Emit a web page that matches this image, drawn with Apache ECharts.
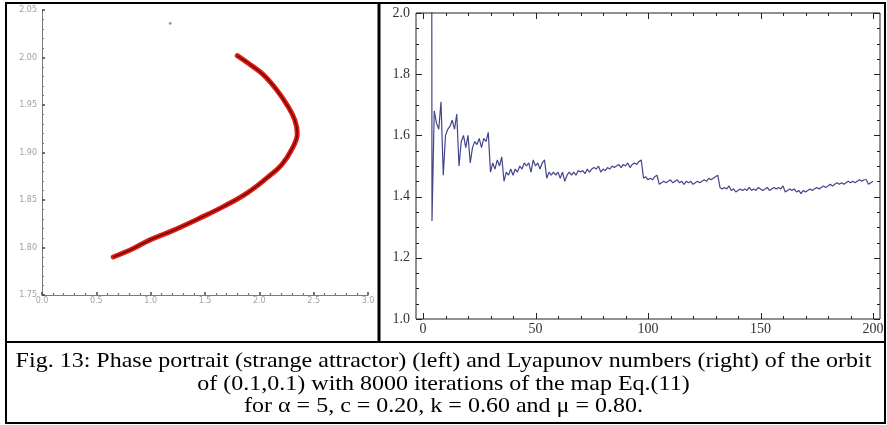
<!DOCTYPE html>
<html><head><meta charset="utf-8">
<script src="https://cdn.jsdelivr.net/npm/echarts@6/dist/echarts.min.js"></script>
<style>html,body{margin:0;padding:0;background:#fff}#c{width:887px;height:425px}</style>
</head><body><div id="c"></div>
<script>
// Left panel: phase portrait
const attractorX = [0.656, 0.84, 0.994, 1.208, 1.454, 1.668, 1.883, 2.067, 2.205, 2.297, 2.349, 2.327, 2.266, 2.159, 2.036, 1.898, 1.797];
const attractorY = [1.790, 1.799, 1.808, 1.818, 1.831, 1.843, 1.857, 1.873, 1.887, 1.903, 1.920, 1.934, 1.948, 1.966, 1.982, 1.994, 2.002];
const strayPoint = [1.18, 2.036];

// Right panel: Lyapunov numbers, iterations 1..200
const lyapunov = [
  4.0, 6.0, 9.0, 1.32, 1.68, 1.64, 1.62, 1.71, 1.47, 1.60,
  1.62, 1.63, 1.65, 1.62, 1.67, 1.50, 1.58, 1.60, 1.56, 1.60,
  1.51, 1.56, 1.58, 1.57, 1.59, 1.56, 1.59, 1.58, 1.61, 1.48,
  1.51, 1.49, 1.52, 1.50, 1.53, 1.45, 1.48, 1.47, 1.49, 1.47,
  1.49, 1.48, 1.50, 1.49, 1.51, 1.50, 1.51, 1.48, 1.52, 1.50,
  1.51, 1.49, 1.51, 1.52, 1.46, 1.48, 1.47, 1.48, 1.47, 1.48,
  1.46, 1.48, 1.45, 1.47, 1.48, 1.47, 1.48, 1.47, 1.485, 1.48,
  1.485, 1.475, 1.49, 1.48, 1.49, 1.495, 1.49, 1.50, 1.48, 1.49,
  1.485, 1.495, 1.49, 1.50, 1.495, 1.50, 1.505, 1.495, 1.505, 1.50,
  1.51, 1.495, 1.505, 1.51, 1.505, 1.515, 1.52, 1.46, 1.465, 1.455,
  1.46, 1.455, 1.465, 1.47, 1.44, 1.445, 1.45, 1.445, 1.45, 1.455,
  1.445, 1.45, 1.455, 1.445, 1.45, 1.44, 1.45, 1.445, 1.45, 1.44,
  1.445, 1.45, 1.445, 1.45, 1.455, 1.45, 1.46, 1.455, 1.46, 1.465,
  1.47, 1.43, 1.425, 1.43, 1.425, 1.435, 1.42, 1.425, 1.415, 1.42,
  1.425, 1.42, 1.425, 1.42, 1.43, 1.42, 1.425, 1.42, 1.43, 1.425,
  1.42, 1.425, 1.43, 1.42, 1.425, 1.43, 1.425, 1.43, 1.425, 1.435,
  1.415, 1.42, 1.425, 1.42, 1.425, 1.415, 1.42, 1.41, 1.42, 1.415,
  1.42, 1.425, 1.42, 1.425, 1.43, 1.425, 1.43, 1.435, 1.43, 1.435,
  1.44, 1.435, 1.44, 1.445, 1.44, 1.445, 1.44, 1.445, 1.45, 1.445,
  1.45, 1.445, 1.45, 1.455, 1.45, 1.455, 1.455, 1.44, 1.445, 1.45
];

// Frame tick values of the right panel
const xMajorTicks = [0, 50, 100, 150, 200];
const xMinorStep = 10;
const yMajorTicks = [1.0, 1.2, 1.4, 1.6, 1.8, 2.0];
const yMinorStep = 0.05;

const captionLines = [
  'Fig. 13: Phase portrait (strange attractor) (left) and Lyapunov numbers (right) of the orbit',
  'of (0.1,0.1) with 8000 iterations of the map Eq.(11)',
  'for \u03b1 = 5, c = 0.20, k = 0.60 and \u03bc = 0.80.'
];

const attractorData = attractorX.map((x, i) => [x, attractorY[i]]);
const lyapData = lyapunov.map((v, i) => [i + 1, v]);

const serif = 'Liberation Serif';
const chart = echarts.init(document.getElementById('c'));

const leftAxisCommon = () => ({
  axisLine: { show: true, onZero: false, lineStyle: { color: '#7a7a7a', width: 1 } },
  axisTick: { show: true, inside: true, length: 3, lineStyle: { color: '#444', width: 1.5 } },
  minorTick: { show: true, splitNumber: 5, length: 2, lineStyle: { color: '#777', width: 1.2 } },
  splitLine: { show: false }
});
const hiddenFrameAxis = () => ({
  axisLine: { show: false, onZero: false },
  axisTick: { show: false },
  minorTick: { show: false },
  splitLine: { show: false }
});

chart.setOption({
  animation: false,
  grid: [
    { left: 42, top: 10, width: 326, height: 285 },
    { left: 423, right: 14, top: 13, bottom: 106 }
  ],
  xAxis: [
    Object.assign(leftAxisCommon(), {
      gridIndex: 0, type: 'value', min: 0, max: 3, interval: 0.5,
      axisLabel: { color: '#a0a0a0', fontSize: 8, fontFamily: 'DejaVu Sans', margin: 2, formatter: v => v.toFixed(1) }
    }),
    Object.assign(hiddenFrameAxis(), {
      gridIndex: 1, type: 'value', min: 0, max: 200, interval: 50, position: 'bottom',
      axisLabel: { show: true, color: '#333', fontSize: 14, fontFamily: serif, margin: 3 }
    })
  ],
  yAxis: [
    Object.assign(leftAxisCommon(), {
      gridIndex: 0, type: 'value', min: 1.75, max: 2.05, interval: 0.05,
      axisLabel: { color: '#a0a0a0', fontSize: 8, fontFamily: 'DejaVu Sans', margin: 5, formatter: v => v.toFixed(2) }
    }),
    Object.assign(hiddenFrameAxis(), {
      gridIndex: 1, type: 'value', min: 1, max: 2, interval: 0.2, position: 'left', offset: 7,
      axisLabel: { show: true, color: '#333', fontSize: 14, fontFamily: serif, margin: 6, formatter: v => v.toFixed(1) }
    })
  ],
  series: [
    {
      type: 'line', xAxisIndex: 0, yAxisIndex: 0, data: attractorData, smooth: 0.4,
      symbol: 'none', lineStyle: { color: '#e41a12', width: 5, cap: 'round' }
    },
    {
      type: 'line', xAxisIndex: 0, yAxisIndex: 0, data: attractorData, smooth: 0.4,
      symbol: 'none', lineStyle: { color: '#6a0c08', width: 1.6 }
    },
    {
      type: 'scatter', xAxisIndex: 0, yAxisIndex: 0, data: [strayPoint],
      symbolSize: 3, itemStyle: { color: '#888' }
    },
    {
      type: 'line', xAxisIndex: 1, yAxisIndex: 1, data: lyapData, clip: true,
      symbol: 'none', lineStyle: { color: '#45458c', width: 1.2 }
    }
  ]
});

// Frame and frame ticks of the right panel, positioned through the axes' own scales
const px = v => chart.convertToPixel({ xAxisIndex: 1 }, v);
const py = v => chart.convertToPixel({ yAxisIndex: 1 }, v);
const fTop = py(2), fBottom = py(1), fLeft = px(0) - 7, fRight = px(200) + 7;
const tick = (x1, y1, x2, y2) => ({ type: 'line', shape: { x1, y1, x2, y2 }, style: { stroke: '#222', lineWidth: 1 }, z: 10 });
const tickEls = [];
for (let v = 0; v <= 200; v += xMinorStep) {
  const len = xMajorTicks.includes(v) ? 6 : 3;
  const x = Math.round(px(v)) + 0.5;
  tickEls.push(tick(x, fBottom, x, fBottom - len), tick(x, fTop, x, fTop + len));
}
for (let i = 0; i <= 20; i++) {
  const v = +(1 + i * yMinorStep).toFixed(2);
  const len = yMajorTicks.some(t => Math.abs(t - v) < 1e-6) ? 6 : 3;
  const y = Math.round(py(v)) + 0.5;
  tickEls.push(tick(fLeft, y, fLeft + len, y), tick(fRight, y, fRight - len, y));
}

const captionStyle = (t) => ({ text: t, font: '24px "Liberation Serif"', fill: '#000', textAlign: 'center', textVerticalAlign: 'middle' });

chart.setOption({
  graphic: [
    { type: 'rect', shape: { x: fLeft, y: fTop, width: fRight - fLeft, height: fBottom - fTop }, style: { fill: 'none', stroke: '#222', lineWidth: 1 }, z: 10 },
    { type: 'rect', shape: { x: 6, y: 3, width: 879, height: 420 }, style: { fill: 'none', stroke: '#000', lineWidth: 2 }, z: 10 },
    { type: 'line', shape: { x1: 379, y1: 3, x2: 379, y2: 342 }, style: { stroke: '#000', lineWidth: 3 }, z: 10 },
    { type: 'line', shape: { x1: 6, y1: 342, x2: 885, y2: 342 }, style: { stroke: '#000', lineWidth: 2 }, z: 10 },
    { type: 'text', x: 443.5, y: 361, scaleY: 0.88, style: captionStyle(captionLines[0]), z: 10 },
    { type: 'text', x: 443.5, y: 384, scaleY: 0.88, style: captionStyle(captionLines[1]), z: 10 },
    { type: 'text', x: 443.5, y: 406, scaleY: 0.88, style: captionStyle(captionLines[2]), z: 10 }
  ].concat(tickEls)
});
</script>
</body></html>
